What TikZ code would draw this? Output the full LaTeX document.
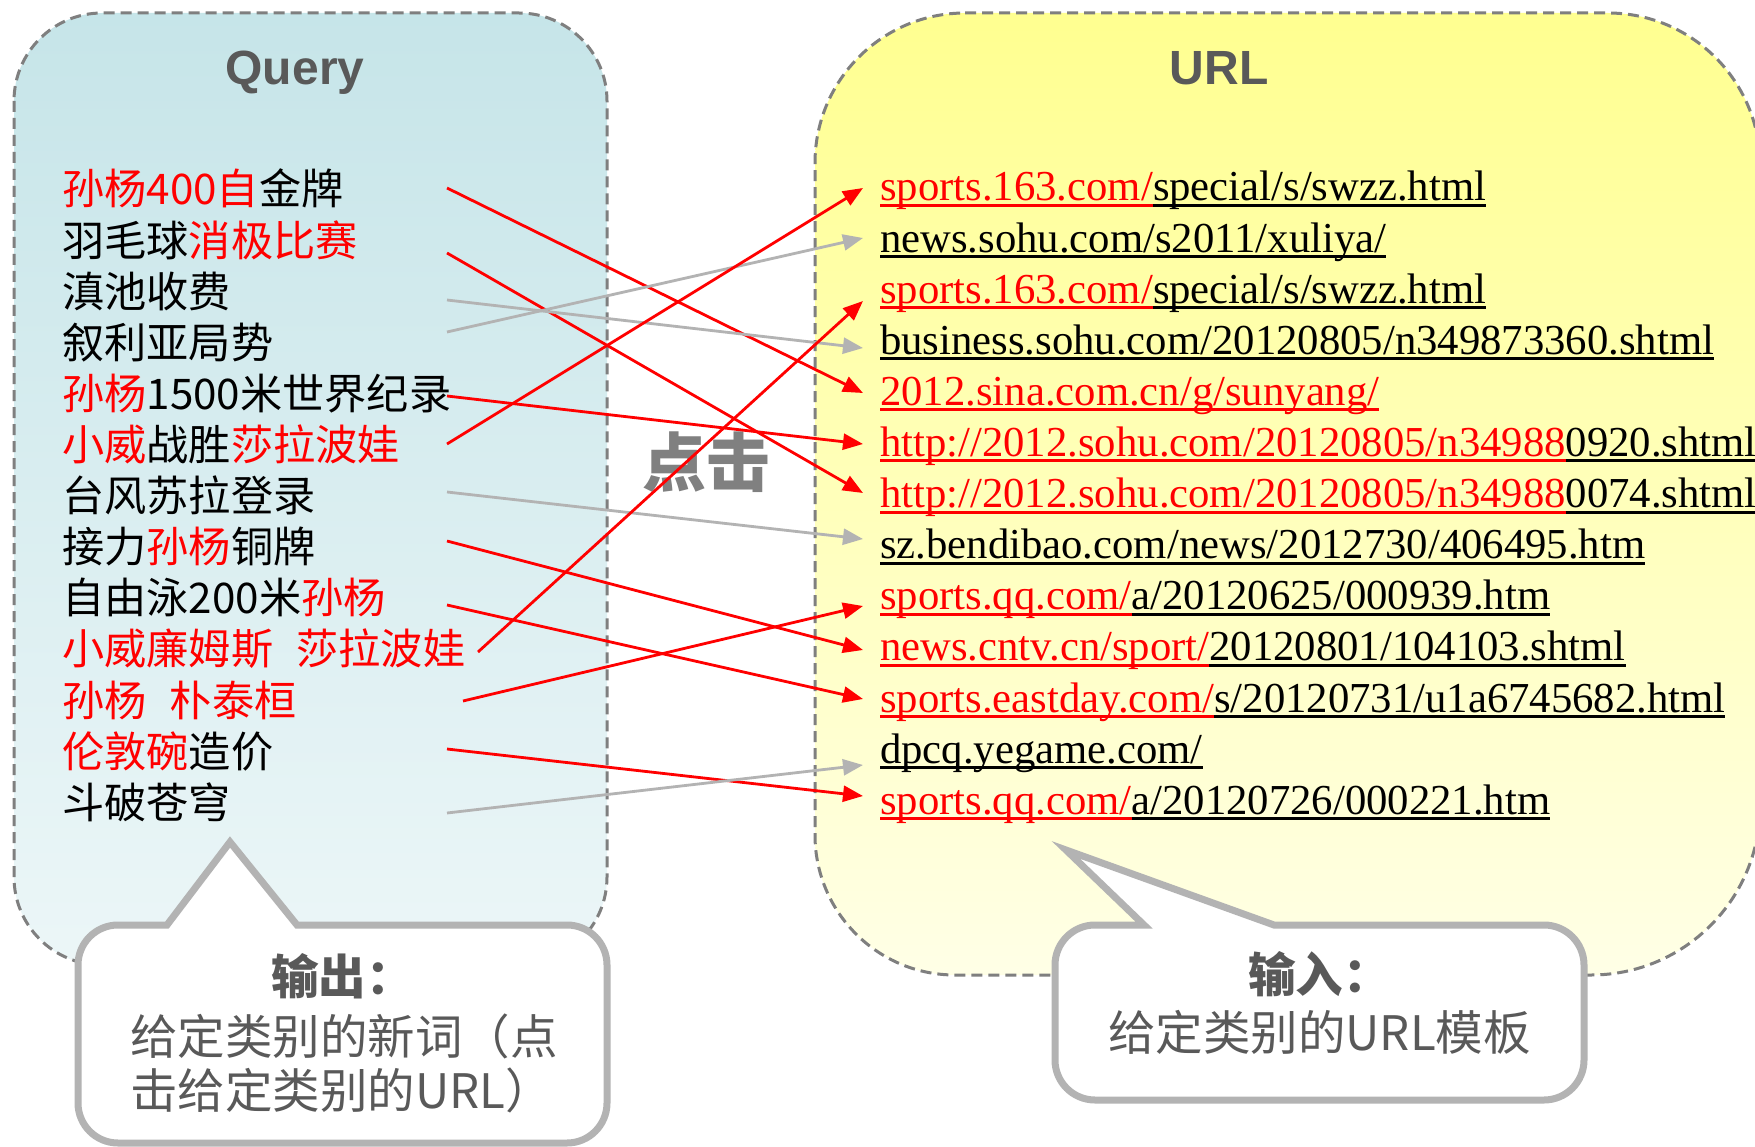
\documentclass[tikz,border=0pt]{standalone}
\usepackage{fontspec}
\setmainfont{Liberation Serif}
\setsansfont{Liberation Sans}
\newfontfamily\cjk{Noto Sans CJK SC}
\usetikzlibrary{arrows.meta}
\definecolor{qred}{HTML}{FF0000}
\definecolor{titlegray}{HTML}{595959}
\definecolor{bordergray}{HTML}{7F7F7F}
\definecolor{bubblegray}{HTML}{B3B3B3}
\definecolor{linegray}{HTML}{B3B3B3}
\definecolor{clickgray}{HTML}{808080}
\definecolor{qtop}{HTML}{B3DCE1}
\definecolor{utop}{HTML}{FFFF66}
\definecolor{umid}{HTML}{FFFFBA}
\definecolor{ubot}{HTML}{FFFFF8}
\pgfdeclareverticalshading{qshade}{100bp}{color(0bp)=(white); color(100bp)=(qtop)}
\pgfdeclareverticalshading{ushade}{100bp}{color(0bp)=(ubot); color(15bp)=(ubot); color(50bp)=(umid); color(100bp)=(utop)}
\newcommand\useg[2]{\setbox0=\hbox{\color{#1}#2}\rlap{\color{#1}\rule[-0.14em]{\wd0}{0.07em}}\box0}
\newcommand\ured[1]{\useg{qred}{#1}}
\newcommand\ublk[1]{\useg{black}{#1}}
\newcommand\rd[1]{\textcolor{qred}{#1}}
\tikzset{
  qtext/.style={anchor=base west, inner sep=0pt, font=\cjk\fontsize{42.2}{51}\selectfont},
  utext/.style={anchor=base west, inner sep=0pt, font=\fontsize{42.7}{51}\selectfont},
  titletext/.style={anchor=base, inner sep=0pt, text=titlegray, font=\sffamily\bfseries\fontsize{48}{56}\selectfont},
  boxborder/.style={draw=bordergray, line width=3pt, dash pattern=on 11pt off 6pt},
  bubble/.style={draw=bubblegray, line width=7pt, fill=white, line join=miter},
  bubtext/.style={inner sep=0pt, text=titlegray, font=\cjk\fontsize{47.5}{57}\selectfont},
  redconn/.style={draw=qred, line width=2.8pt, -{Triangle[length=20pt,width=16pt]}},
  grayconn/.style={draw=linegray, line width=2.8pt, -{Triangle[length=20pt,width=16pt]}},
}
\begin{document}
\begin{tikzpicture}[x=1pt,y=-1pt]
\useasboundingbox (0,0) rectangle (1755,1147);
\fill[white] (0,0) rectangle (1755,1147);
% boxes
\shadedraw[boxborder, shading=qshade, rounded corners=88pt] (14,13) rectangle (607,965);
\shadedraw[boxborder, shading=ushade] (965,13) -- (1608,13) arc[start angle=-90,end angle=0,radius=152]
  -- (1760,806) arc[start angle=0,end angle=90,radius=169]
  -- (955,975) arc[start angle=90,end angle=180,radius=140]
  -- (815,163) arc[start angle=180,end angle=270,radius=150] -- cycle;
% titles
\node[titletext] (qtitle) at (295,85) {Query};
\node[titletext] (utitle) at (1219,85) {URL};
% click label
\node[inner sep=0pt, text=clickgray, font=\cjk\bfseries\fontsize{64}{70}\selectfont] (click) at (706,462) {点击};
% query rows
\node[qtext] (q1) at (62,205) {\rd{孙杨400自}金牌};
\node[qtext] (q2) at (62,256.1) {羽毛球\rd{消极比赛}};
\node[qtext] (q3) at (62,307.2) {滇池收费};
\node[qtext] (q4) at (62,358.3) {叙利亚局势};
\node[qtext] (q5) at (62,409.4) {\rd{孙杨}1500米世界纪录};
\node[qtext] (q6) at (62,460.5) {\rd{小威}战胜\rd{莎拉波娃}};
\node[qtext] (q7) at (62,511.6) {台风苏拉登录};
\node[qtext] (q8) at (62,562.7) {接力\rd{孙杨}铜牌};
\node[qtext] (q9) at (62,613.8) {自由泳200米\rd{孙杨}};
\node[qtext] (q10) at (62,664.9) {\rd{小威廉姆斯\hspace{0.55em}莎拉波娃}};
\node[qtext] (q11) at (62,716) {\rd{孙杨\hspace{0.55em}朴泰桓}};
\node[qtext] (q12) at (62,767.1) {\rd{伦敦碗}造价};
\node[qtext] (q13) at (62,818.2) {斗破苍穹};
% url rows
\node[utext] (u1) at (880,201) {\ured{sports.163.com/}\ublk{special/s/swzz.html}};
\node[utext] (u2) at (880,252.1) {\ublk{news.sohu.com/s2011/xuliya/}};
\node[utext] (u3) at (880,303.2) {\ured{sports.163.com/}\ublk{special/s/swzz.html}};
\node[utext] (u4) at (880,354.3) {\ublk{business.sohu.com/20120805/n349873360.shtml}};
\node[utext] (u5) at (880,405.4) {\ured{2012.sina.com.cn/g/sunyang/}};
\node[utext] (u6) at (880,456.5) {\ured{http://2012.sohu.com/20120805/n34988}\ublk{0920.shtml}};
\node[utext] (u7) at (880,507.6) {\ured{http://2012.sohu.com/20120805/n34988}\ublk{0074.shtml}};
\node[utext] (u8) at (880,558.7) {\ublk{sz.bendibao.com/news/2012730/406495.htm}};
\node[utext] (u9) at (880,609.8) {\ured{sports.qq.com/}\ublk{a/20120625/000939.htm}};
\node[utext] (u10) at (880,660.9) {\ured{news.cntv.cn/sport/}\ublk{20120801/104103.shtml}};
\node[utext] (u11) at (880,712) {\ured{sports.eastday.com/}\ublk{s/20120731/u1a6745682.html}};
\node[utext] (u12) at (880,763.1) {\ublk{dpcq.yegame.com/}};
\node[utext] (u13) at (880,814.2) {\ured{sports.qq.com/}\ublk{a/20120726/000221.htm}};
% connector ends
\coordinate (s1) at (447,188);  \coordinate (t1) at (863,393);
\coordinate (s2) at (447,253);  \coordinate (t2) at (863,493);
\coordinate (s3) at (447,300);  \coordinate (t3) at (863,348);
\coordinate (s4) at (447,332);  \coordinate (t4) at (863,238);
\coordinate (s5) at (447,396);  \coordinate (t5) at (863,444);
\coordinate (s6) at (447,444);  \coordinate (t6) at (863,188);
\coordinate (s7) at (447,492);  \coordinate (t7) at (863,539);
\coordinate (s8) at (447,541);  \coordinate (t8) at (863,650);
\coordinate (s9) at (447,605);  \coordinate (t9) at (863,699);
\coordinate (s10) at (478,652); \coordinate (t10) at (863,301);
\coordinate (s11) at (463,701); \coordinate (t11) at (863,606);
\coordinate (s12) at (447,749); \coordinate (t12) at (863,796);
\coordinate (s13) at (447,813); \coordinate (t13) at (863,765);
\draw[redconn] (s1) -- (t1);
\draw[redconn] (s2) -- (t2);
\draw[grayconn] (s3) -- (t3);
\draw[grayconn] (s4) -- (t4);
\draw[redconn] (s5) -- (t5);
\draw[redconn] (s6) -- (t6);
\draw[grayconn] (s7) -- (t7);
\draw[redconn] (s8) -- (t8);
\draw[redconn] (s9) -- (t9);
\draw[redconn] (s10) -- (t10);
\draw[redconn] (s11) -- (t11);
\draw[redconn] (s12) -- (t12);
\draw[grayconn] (s13) -- (t13);
% callouts
\draw[bubble] (297,925) -- (567,925) arc[start angle=-90,end angle=0,radius=40]
  -- (607,1103) arc[start angle=0,end angle=90,radius=40]
  -- (118,1143) arc[start angle=90,end angle=180,radius=40]
  -- (78,965) arc[start angle=180,end angle=270,radius=40]
  -- (167,925) -- (230,842) -- cycle;
\draw[bubble] (1274,925) -- (1544,925) arc[start angle=-90,end angle=0,radius=40]
  -- (1584,1060) arc[start angle=0,end angle=90,radius=40]
  -- (1095,1100) arc[start angle=90,end angle=180,radius=40]
  -- (1055,965) arc[start angle=180,end angle=270,radius=40]
  -- (1144,925) -- (1066,850) -- cycle;
\node[bubtext, anchor=base, font=\cjk\bfseries\fontsize{47.5}{57}\selectfont] (out1) at (342.5,994) {输出：};
\node[bubtext, anchor=base west] (out2) at (130,1054) {给定类别的新词（点};
\node[bubtext, anchor=base west] (out3) at (130,1108) {击给定类别的URL）};
\node[bubtext, anchor=base, font=\cjk\bfseries\fontsize{47.5}{57}\selectfont] (in1) at (1319.5,992) {输入：};
\node[bubtext, anchor=base] (in2) at (1319.5,1050) {给定类别的URL模板};
\end{tikzpicture}
\end{document}
